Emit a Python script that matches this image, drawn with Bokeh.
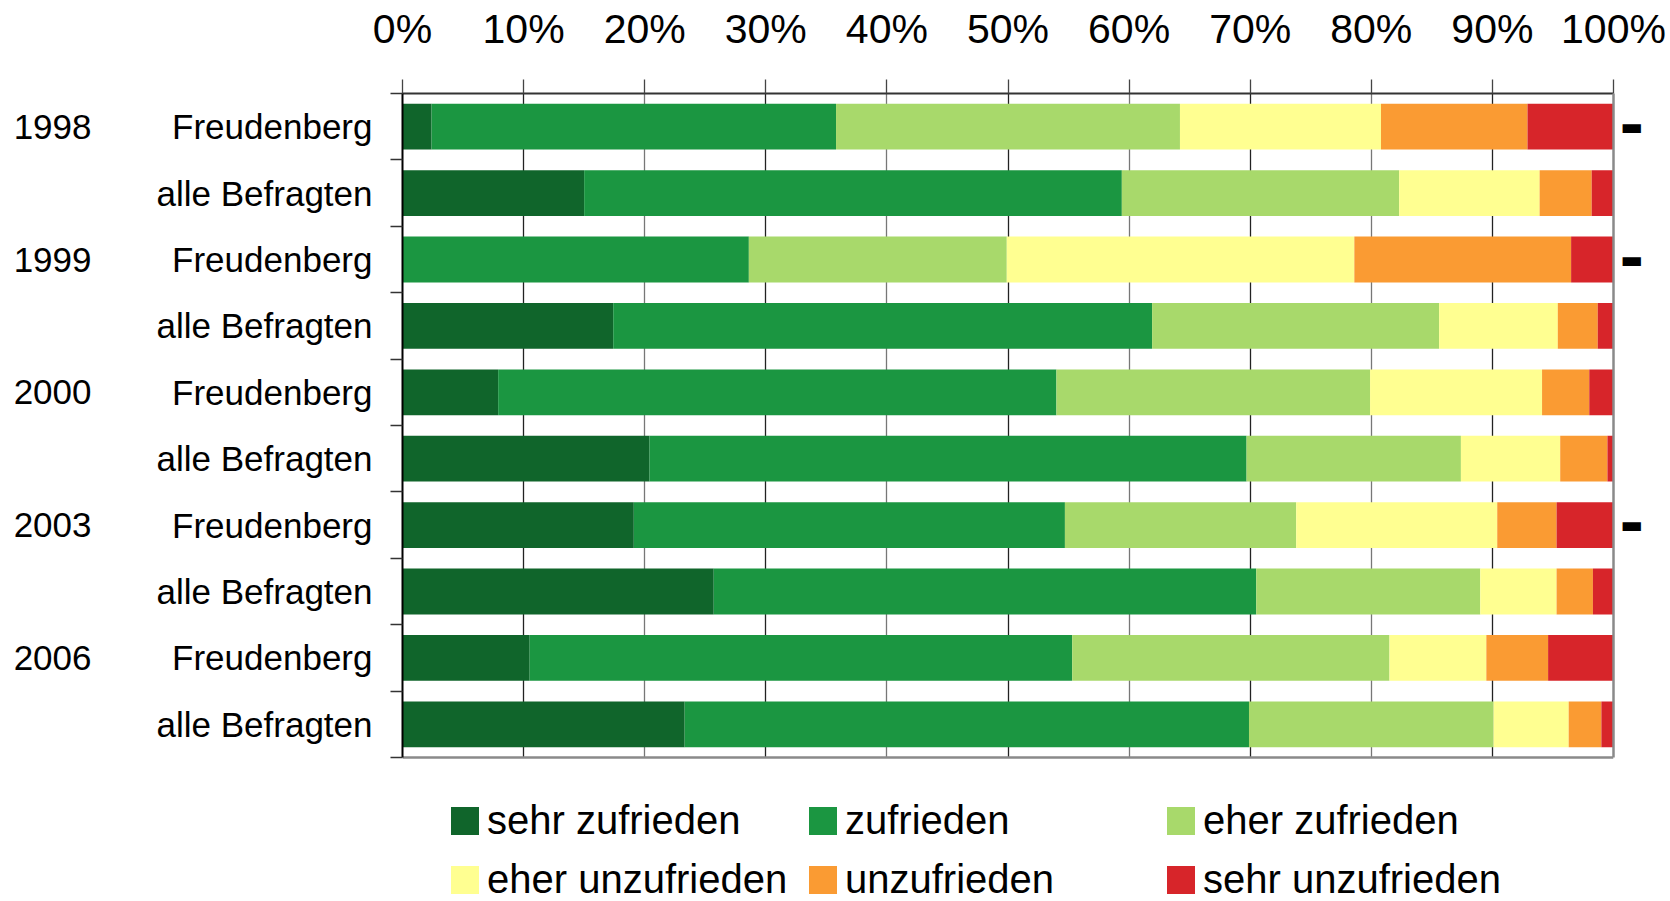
from bokeh.plotting import figure
from bokeh.models import (ColumnDataSource, Range1d, FixedTicker, LinearAxis, Grid,
                          PrintfTickFormatter, Legend, LegendItem)
from bokeh.embed import file_html
from bokeh.resources import INLINE

# ---------------- data ----------------
years = ["1998", "1999", "2000", "2003", "2006"]
groups = ["Freudenberg", "alle Befragten"]
flagged_years = ["1998", "1999", "2003"]          # Freudenberg rows marked on the right
x_ticks = [0, 10, 20, 30, 40, 50, 60, 70, 80, 90, 100]

series_names = ["sehr zufrieden", "zufrieden", "eher zufrieden",
                "eher unzufrieden", "unzufrieden", "sehr unzufrieden"]
sehr_zufrieden   = [2.4, 15.0, 0.0, 17.4, 7.9, 20.4, 19.1, 25.7, 10.5, 23.3]
zufrieden        = [33.4, 44.4, 28.6, 44.5, 46.1, 49.3, 35.6, 44.8, 44.8, 46.6]
eher_zufrieden   = [28.4, 22.9, 21.3, 23.7, 25.9, 17.7, 19.1, 18.5, 26.2, 20.2]
eher_unzufrieden = [16.6, 11.6, 28.7, 9.8, 14.2, 8.2, 16.6, 6.3, 8.0, 6.2]
unzufrieden      = [12.1, 4.3, 17.9, 3.3, 3.9, 3.9, 4.9, 3.0, 5.1, 2.7]
sehr_unzufrieden = [7.1, 1.8, 3.5, 1.3, 2.0, 0.5, 4.7, 1.7, 5.4, 1.0]
colors = ["#10652b", "#1b9641", "#a8d96b", "#ffff91", "#fa9b33", "#d7252a"]

# ---------------- build ----------------
rows = [(y, g) for y in years for g in groups]
n = len(rows)
ypos = [i + 0.5 for i in range(n)]
keys = ["s0", "s1", "s2", "s3", "s4", "s5"]
source = ColumnDataSource(dict(y=ypos, s0=sehr_zufrieden, s1=zufrieden, s2=eher_zufrieden,
                               s3=eher_unzufrieden, s4=unzufrieden, s5=sehr_unzufrieden))

FONT = "Liberation Sans"
ROW_PX = 66.4          # pixel height of one category row
TOP, LEFT, RIGHT = 93, 402, 55
W, H = 1668, 900
FRAME_H = H - TOP      # frame also hosts the legend strip below the bars

p = figure(width=W, height=H,
           x_range=Range1d(0, 100), y_range=Range1d(FRAME_H / ROW_PX, 0),
           x_axis_location="above", output_backend="svg", toolbar_location=None,
           min_border_left=LEFT, min_border_right=RIGHT, min_border_top=TOP, min_border_bottom=0)
p.background_fill_color = "white"
p.border_fill_color = "white"
p.outline_line_color = None

renderers = p.hbar_stack(keys, y="y", height=0.69, color=colors, line_color=None, source=source)

# grids: alternating dark / gray vertical lines, limited to the bar area
p.xgrid.visible = False
p.ygrid.visible = False
p.add_layout(Grid(dimension=0, ticker=FixedTicker(ticks=[t for t in x_ticks[1:-1] if (t // 10) % 2 == 1]),
                  grid_line_color="#222222", grid_line_width=1.3, cross_bounds=(0, n)))
p.add_layout(Grid(dimension=0, ticker=FixedTicker(ticks=[t for t in x_ticks[1:-1] if (t // 10) % 2 == 0]),
                  grid_line_color="#777777", grid_line_width=1.3, cross_bounds=(0, n)))
# bottom border line of the bar area
p.add_layout(Grid(dimension=1, ticker=FixedTicker(ticks=[n]),
                  grid_line_color="#8a8a8a", grid_line_width=2.5))

# top x axis
xa = p.xaxis[0]
xa.ticker = FixedTicker(ticks=x_ticks)
xa.formatter = PrintfTickFormatter(format="%d%%")
xa.major_tick_out = 14
xa.major_tick_in = 0
xa.minor_tick_line_color = None
xa.major_tick_line_color = "#444444"
xa.major_tick_line_width = 1.3
xa.axis_line_color = "#333333"
xa.axis_line_width = 2
xa.major_label_text_font = FONT
xa.major_label_text_font_size = "41px"
xa.major_label_text_color = "black"
xa.major_label_standoff = 28

# left category axis (ticks at row boundaries)
ya = p.yaxis[0]
ya.bounds = (0, n)
ya.ticker = FixedTicker(ticks=ypos, minor_ticks=list(range(n + 1)))
ya.major_label_overrides = {ypos[i]: rows[i][1] for i in range(n)}
ya.major_tick_out = 0
ya.major_tick_in = 0
ya.major_tick_line_color = None
ya.minor_tick_out = 12
ya.minor_tick_in = 0
ya.minor_tick_line_color = "#333333"
ya.minor_tick_line_width = 1.5
ya.axis_line_color = "black"
ya.axis_line_width = 2
ya.major_label_text_font = FONT
ya.major_label_text_font_size = "35px"
ya.major_label_text_color = "black"
ya.major_label_standoff = 18

# outer left axis with the years
year_ticks = [ypos[i] for i in range(n) if rows[i][1] == groups[0]]
yr = LinearAxis(ticker=FixedTicker(ticks=year_ticks), bounds=(0, n),
                major_label_overrides={year_ticks[i]: years[i] for i in range(len(years))})
yr.axis_line_color = None
yr.major_tick_line_color = None
yr.minor_tick_line_color = None
yr.major_tick_out = 0
yr.major_tick_in = 0
yr.major_label_text_font = FONT
yr.major_label_text_font_size = "35px"
yr.major_label_text_color = "black"
yr.major_label_standoff = 62
p.add_layout(yr, "left")

# right axis: gray border line + markers
flag_ticks = [ypos[i] for i in range(n) if rows[i][1] == groups[0] and rows[i][0] in flagged_years]
ra = LinearAxis(ticker=FixedTicker(ticks=flag_ticks), bounds=(0, n),
                major_label_overrides={t: "▬" for t in flag_ticks})
ra.axis_line_color = "#8a8a8a"
ra.axis_line_width = 2.5
ra.major_tick_line_color = None
ra.minor_tick_line_color = None
ra.major_tick_out = 0
ra.major_tick_in = 0
ra.major_label_text_font = "DejaVu Sans"
ra.major_label_text_font_size = "24px"
ra.major_label_text_color = "black"
ra.major_label_standoff = 7
p.add_layout(ra, "right")

# legend in the strip below the bars, 3 columns x 2 rows
lg = Legend(items=[LegendItem(label=series_names[i], renderers=[renderers[i]]) for i in range(len(keys))])
lg.orientation = "horizontal"
lg.ncols = 3
lg.location = (45, -2)
lg.margin = 0
lg.padding = 0
lg.spacing = 14
lg.border_line_color = None
lg.background_fill_alpha = 0
lg.glyph_width = 35
lg.glyph_height = 35
lg.label_standoff = 5
lg.label_width = 304
lg.label_height = 45
lg.label_text_font = FONT
lg.label_text_font_size = "40px"
lg.label_text_color = "black"
p.add_layout(lg)

open("out.html", "w").write(file_html(p, INLINE))
